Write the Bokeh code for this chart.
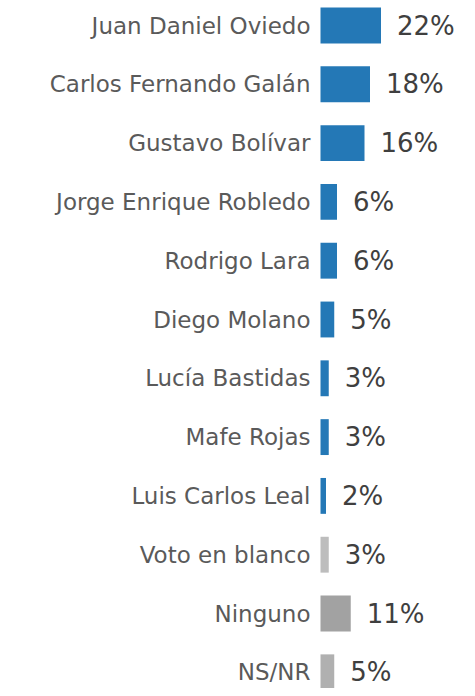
from bokeh.plotting import figure
from bokeh.models import Range1d, ColumnDataSource
from bokeh.core.properties import value
from bokeh.embed import file_html
from bokeh.resources import INLINE

candidates = ["Juan Daniel Oviedo", "Carlos Fernando Galán", "Gustavo Bolívar",
              "Jorge Enrique Robledo", "Rodrigo Lara", "Diego Molano",
              "Lucía Bastidas", "Mafe Rojas", "Luis Carlos Leal",
              "Voto en blanco", "Ninguno", "NS/NR"]
percent = [22, 18, 16, 6, 6, 5, 3, 3, 2, 3, 11, 5]
colors = ["#2478b6"] * 9 + ["#bdbdbd", "#a2a2a2", "#b0b0b0"]

W, H = 459, 688
px_per = 2.75
x0_px = 320  # bar origin within figure
row0, step = 25, 58.8

rows = list(range(len(candidates)))
src = ColumnDataSource(dict(
    y=rows, v=percent, name=candidates, color=colors,
    lab=[f"{p}%" for p in percent],
))

p = figure(width=W, height=H, output_backend="svg", toolbar_location=None,
           x_range=Range1d(-x0_px / px_per, (W - x0_px) / px_per),
           y_range=Range1d((H - row0) / step, -row0 / step),
           min_border=0)
p.axis.visible = False
p.grid.visible = False
p.outline_line_color = None

p.hbar(y="y", left=0, right="v", height=0.61, fill_color="color",
       line_color=None, source=src)
p.text(x=0, y="y", text="name", x_offset=-10, text_align="right",
       text_baseline="middle", text_font=value("DejaVu Sans"),
       text_font_size="23px", text_color="#5a5a5a", source=src)
p.text(x="v", y="y", text="lab", x_offset=16, text_align="left",
       text_baseline="middle", text_font=value("DejaVu Sans"),
       text_font_size="26px", text_color="#3f3f3f", source=src)

open("out.html", "w").write(file_html(p, INLINE))
